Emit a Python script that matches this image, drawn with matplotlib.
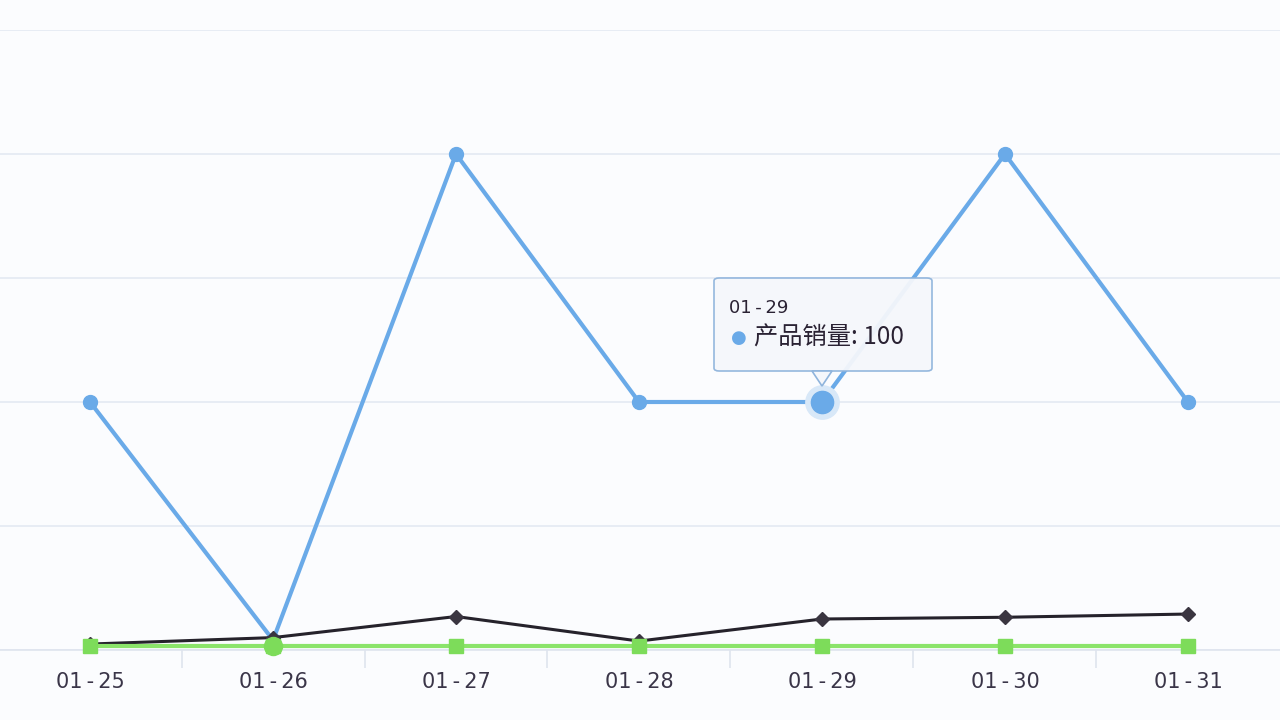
import matplotlib.pyplot as plt
from matplotlib.patches import FancyBboxPatch, Polygon

plt.rcParams['font.family'] = ['Noto Sans CJK SC', 'DejaVu Sans']

# data
dates = ['01-25', '01-26', '01-27', '01-28', '01-29', '01-30', '01-31']
sales = [100, 4, 200, 100, 100, 200, 100]      # 产品销量 (blue)
series_b = [2.4, 5, 13.5, 3.6, 12.5, 13.2, 14.5]  # dark line
series_c = [1.5, 1.5, 1.5, 1.5, 1.5, 1.5, 1.5]    # green line
hl = 4  # highlighted point (tooltip)

W, H = 1280, 720
fig = plt.figure(figsize=(12.8, 7.2), dpi=100)
fig.patch.set_facecolor('#fbfcfe')

# axes: bottom line at y=650px, top grid at y=30px
ax = fig.add_axes([0, 70 / H, 1, 620 / H])
ax.set_facecolor('#fbfcfe')
x = list(range(len(dates)))
ax.set_xlim(-0.492, 6.503)
ax.set_ylim(0, 250)

for s in ['top', 'right', 'left']:
    ax.spines[s].set_visible(False)
ax.spines['bottom'].set_color('#dfe4ee')
ax.spines['bottom'].set_linewidth(1.2)

ax.set_yticks([0, 50, 100, 150, 200, 250])
ax.set_yticklabels([])
ax.tick_params(axis='y', length=0)
ax.grid(axis='y', color='#e4e9f2', linewidth=1.2)

# spaced labels like the reference
ax.set_xticks(x)
ax.set_xticklabels([d.replace('-', '\u2009-\u2009') for d in dates], fontsize=15,
                   color='#3a3548', fontfamily='DejaVu Sans')
ax.tick_params(axis='x', which='major', length=0, pad=16)
ax.set_xticks([i + 0.5 for i in range(len(dates) - 1)], minor=True)
ax.tick_params(axis='x', which='minor', length=13, width=1.2, color='#dfe4ee')

ax.plot(x, sales, color='#6aaae8', lw=3, marker='o', ms=10,
        mfc='#6aaae8', mec='#6aaae8', zorder=3, clip_on=False)
ax.plot(x[hl], sales[hl], 'o', ms=24, color='#d8e8f8', zorder=3.5)
ax.plot(x[hl], sales[hl], 'o', ms=16, color='#6aaae8', zorder=3.6)

ax.plot(x, series_b, color='#25222b', lw=2.2, marker='D', ms=7,
        mfc='#3a3540', mec='#3a3540', zorder=4, clip_on=False)
ax.plot(x, series_c, color='#8be46a', lw=3, marker='s', ms=10,
        mfc='#7ddc5a', mec='#7ddc5a', zorder=5, clip_on=False)
ax.plot(x[1], series_c[1], 'o', ms=13, color='#7ddc5a', zorder=5.5, clip_on=False)

# tooltip
def fx(px):
    return px / W

def fy(py):
    return 1 - py / H

box = FancyBboxPatch((fx(714), fy(371)), fx(932) - fx(714), fy(278) - fy(371),
                     boxstyle='round,pad=0,rounding_size=0.004',
                     transform=fig.transFigure, facecolor='#f5f7fb',
                     edgecolor='#8fb4dc', linewidth=1.2, alpha=0.95, zorder=10)
fig.patches.append(box)
tri = Polygon([(fx(812), fy(371)), (fx(832), fy(371)), (fx(822), fy(386))],
              closed=True, transform=fig.transFigure, facecolor='#f5f7fb',
              edgecolor='#8fb4dc', linewidth=1.2, zorder=10)
fig.patches.append(tri)
fig.text(fx(729), fy(308), dates[hl].replace('-', '\u2009-\u2009'), fontsize=13,
         color='#2a2233', va='center', ha='left', fontfamily='DejaVu Sans', zorder=11)
fig.text(fx(731), fy(338), '●', fontsize=13, color='#6aaae8',
         va='center', ha='left', fontfamily='DejaVu Sans', zorder=11)
fig.text(fx(754), fy(338), '产品销量: %d' % sales[hl], fontsize=17.5,
         color='#2a2233', va='center', ha='left', zorder=11)

fig.savefig('out.png', dpi=100, facecolor=fig.get_facecolor())
